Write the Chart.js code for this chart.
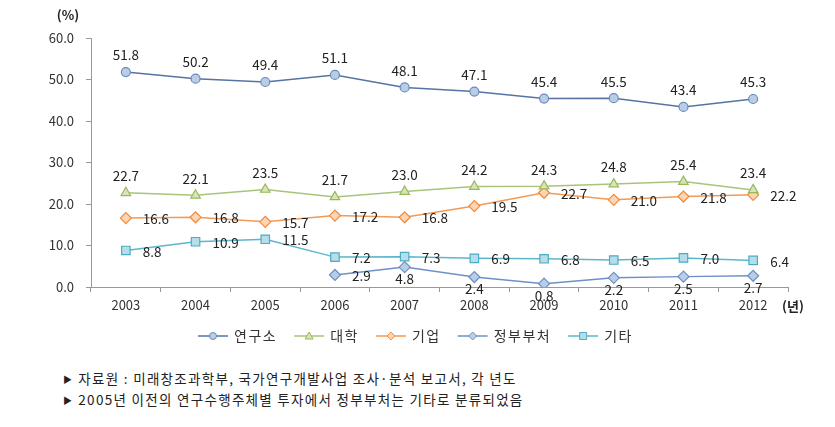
<!DOCTYPE html>
<html>
<head>
<meta charset="utf-8">
<script src="https://cdn.jsdelivr.net/npm/chart.js@4.4.1/dist/chart.umd.min.js"></script>
<style>
  html, body { margin: 0; padding: 0; background: #fff; }
  #wrap { position: relative; width: 835px; height: 427px; font-family: "Noto Sans CJK KR", sans-serif; }
  #box { position: absolute; left: 0; top: 0; width: 835px; height: 356px; }
  .note { position: absolute; left: 63px; font-size: 13.5px; letter-spacing: 1.3px; color: #222; white-space: nowrap; line-height: 18px; }
  .note b { font-size: 9px; font-weight: normal; margin-right: 5px; position: relative; top: -1px; }
</style>
</head>
<body>
<div id="wrap">
  <div id="box"><canvas id="mycanvas" width="835" height="356"></canvas></div>
  <div class="note" style="top:369px"><b>▶</b>자료원 : 미래창조과학부, 국가연구개발사업 조사·분석 보고서, 각 년도</div>
  <div class="note" style="top:390px"><b>▶</b>2005년 이전의 연구수행주체별 투자에서 정부부처는 기타로 분류되었음</div>
</div>
<script>
var years = ['2003', '2004', '2005', '2006', '2007', '2008', '2009', '2010', '2011', '2012'];
var yTicks = [0, 10, 20, 30, 40, 50, 60];
var names = ['연구소', '대학', '기업', '정부부처', '기타'];
var lab = [51.8, 50.2, 49.4, 51.1, 48.1, 47.1, 45.4, 45.5, 43.4, 45.3];
var univ = [22.7, 22.1, 23.5, 21.7, 23.0, 24.2, 24.3, 24.8, 25.4, 23.4];
var corp = [16.6, 16.8, 15.7, 17.2, 16.8, 19.5, 22.7, 21.0, 21.8, 22.2];
var gov = [null, null, null, 2.9, 4.8, 2.4, 0.8, 2.2, 2.5, 2.7];
var etc = [8.8, 10.9, 11.5, 7.2, 7.3, 6.9, 6.8, 6.5, 7.0, 6.4];

var fontFam = '"Noto Sans CJK KR", sans-serif';

// small line + marker drawing used by the legend
function drawIcon(g, x, y, style, line, fill, border) {
    g.save();
    g.strokeStyle = line; g.lineWidth = 1.5;
    g.beginPath(); g.moveTo(x, y); g.lineTo(x + 30, y); g.stroke();
    g.fillStyle = fill; g.strokeStyle = border; g.lineWidth = 1;
    var cx = x + 15;
    g.beginPath();
    if (style == 'circle') { g.arc(cx, y, 3.5, 0, Math.PI * 2); }
    else if (style == 'triangle') { g.moveTo(cx, y - 4); g.lineTo(cx + 4, y + 3); g.lineTo(cx - 4, y + 3); g.closePath(); }
    else if (style == 'rectRot') { g.moveTo(cx, y - 4); g.lineTo(cx + 4, y); g.lineTo(cx, y + 4); g.lineTo(cx - 4, y); g.closePath(); }
    else { g.rect(cx - 3.5, y - 3.5, 7, 7); }
    g.fill(); g.stroke();
    g.restore();
}

function makeSet(label, data, style, line, fill, border, pos) {
    return {
        label: label,
        data: data,
        borderColor: line,
        backgroundColor: fill,
        borderWidth: 1.5,
        pointStyle: style,
        pointRadius: style == 'circle' ? 4.5 : (style == 'rect' ? 6 : 5.5),
        pointBackgroundColor: fill,
        pointBorderColor: border,
        pointBorderWidth: 1.2,
        tension: 0,
        spanGaps: false,
        labelPos: pos
    };
}

var valueLabels = {
    id: 'valueLabels',
    afterDatasetsDraw: function(chart) {
        var ctx = chart.ctx;
        ctx.save();
        ctx.font = '13.5px ' + fontFam;
        ctx.fillStyle = '#222';
        chart.data.datasets.forEach(function(ds, i) {
            var meta = chart.getDatasetMeta(i);
            meta.data.forEach(function(pt, j) {
                var v = ds.data[j];
                if (v === null || v === undefined) return;
                var p = ds.labelPos[j] || ds.labelPos[0];
                var txt = v.toFixed(1);
                if (p == 'top') {
                    ctx.textAlign = 'center'; ctx.textBaseline = 'bottom';
                    ctx.fillText(txt, pt.x, pt.y - 10);
                } else if (p == 'bottom') {
                    ctx.textAlign = 'center'; ctx.textBaseline = 'top';
                    ctx.fillText(txt, pt.x, pt.y + 5);
                } else {
                    ctx.textAlign = 'left'; ctx.textBaseline = 'middle';
                    ctx.fillText(txt, pt.x + 17, pt.y + 1);
                }
            });
        });
        // unit captions
        ctx.font = 'bold 13px ' + fontFam;
        ctx.textAlign = 'center'; ctx.textBaseline = 'middle';
        ctx.fillText('(%)', 68, 15);
        ctx.fillText('(년)', 793, 306);

        // legend row
        var x = 198, y = 336;
        ctx.font = '14px ' + fontFam;
        ctx.textAlign = 'left';
        if ('letterSpacing' in ctx) ctx.letterSpacing = '1.5px';
        ctx.fillStyle = '#333';
        chart.data.datasets.forEach(function(ds) {
            drawIcon(ctx, x, y, ds.pointStyle, ds.borderColor, ds.pointBackgroundColor, ds.pointBorderColor);
            x += 36;
            ctx.fillText(ds.label, x, y);
            x += ctx.measureText(ds.label).width + 17;
        });
        ctx.restore();
    }
};

var rightPos = ['right'];
var govPos = [null, null, null, 'right', 'bottom', 'bottom', 'bottom', 'bottom', 'bottom', 'bottom'];

var chartdata = {
    labels: years,
    datasets: [
        makeSet(names[0], lab, 'circle', '#5673A3', '#B9CDE5', '#6A8AC0', ['top']),
        makeSet(names[1], univ, 'triangle', '#A9C47A', '#D7E4BD', '#98B957', ['top']),
        makeSet(names[2], corp, 'rectRot', '#F39A55', '#FCD5B5', '#F08A3C', rightPos),
        makeSet(names[3], gov, 'rectRot', '#6F8FC8', '#B9CDE5', '#6F8FC8', govPos),
        makeSet(names[4], etc, 'rect', '#5CB6CC', '#B7DEE8', '#4BACC6', rightPos)
    ]
};

var ctx = document.getElementById('mycanvas');

var lineChart = new Chart(ctx, {
    type: 'line',
    data: chartdata,
    plugins: [valueLabels],
    options: {
        responsive: false,
        animation: false,
        layout: { padding: { top: 38, right: 47, left: 0, bottom: 0 } },
        plugins: {
            tooltip: { enabled: false },
            legend: { display: false }
        },
        scales: {
            x: {
                offset: true,
                afterFit: function(scale) { scale.height = 69; },
                grid: { offset: true, drawOnChartArea: false, drawTicks: true, tickLength: 5, color: '#999' },
                border: { color: '#999', width: 1 },
                ticks: { color: '#333', font: { size: 13, family: fontFam }, padding: 5, maxRotation: 0 }
            },
            y: {
                min: 0,
                max: 60,
                afterFit: function(scale) { scale.width = 91; },
                afterBuildTicks: function(scale) { scale.ticks = yTicks.map(function(v) { return { value: v }; }); },
                grid: { drawOnChartArea: false, drawTicks: true, tickLength: 5, color: '#999' },
                border: { color: '#999', width: 1 },
                ticks: {
                    color: '#333', font: { size: 13, family: fontFam }, padding: 12,
                    callback: function(v) { return Number(v).toFixed(1); }
                }
            }
        }
    }
});
</script>
</body>
</html>
